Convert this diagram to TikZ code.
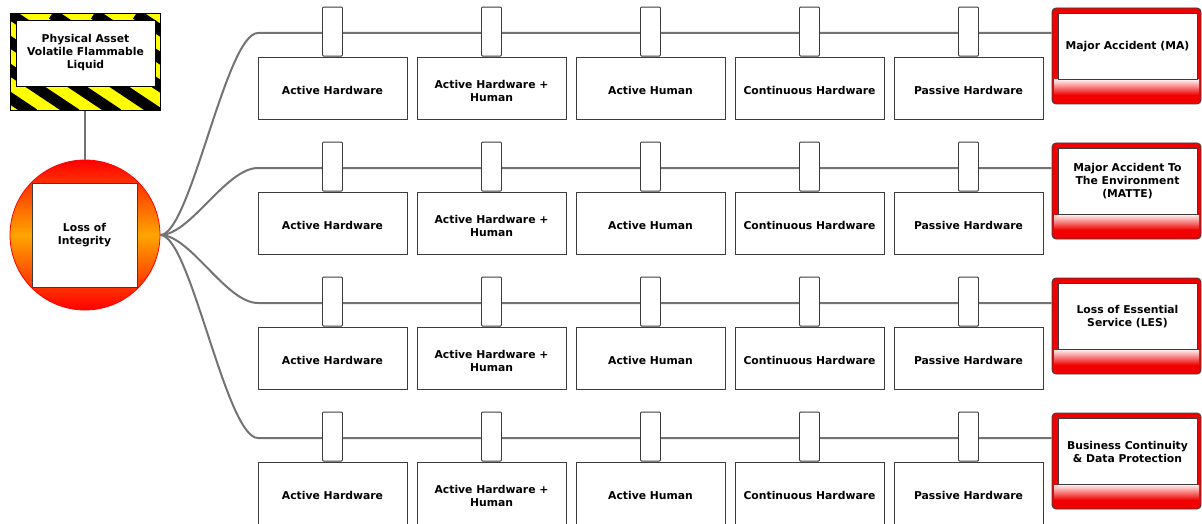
\documentclass[tikz,border=0pt]{standalone}
\usepackage{fontspec}
\setmainfont{DejaVu Sans}
\usetikzlibrary{positioning}
\definecolor{LinkGray}{RGB}{115,115,115}
\definecolor{EdgeGray}{RGB}{60,60,60}
\definecolor{HazYellow}{RGB}{255,255,0}
\definecolor{ConsRed}{RGB}{240,0,0}
\definecolor{TopOrange}{RGB}{255,165,0}
\tikzset{
  lbl/.style={font=\fontsize{10.8}{13}\selectfont\bfseries,align=center,inner sep=0pt},
  barrier/.style={draw=EdgeGray,fill=white,line width=0.9pt,
                  minimum width=149pt,minimum height=62pt},
  tab/.style={draw=EdgeGray,fill=white,line width=0.9pt,inner sep=0pt,
              minimum width=20pt,minimum height=49pt,rounded corners=1pt},
  hazbox/.style={draw=black,fill=HazYellow,line width=1pt,inner sep=0pt,
                 minimum width=150pt,minimum height=97pt},
  topev/.style={circle,draw=red,line width=0.8pt,minimum size=150pt,
                top color=red,bottom color=red,middle color=TopOrange},
  cons/.style={draw=black!75,fill=ConsRed,line width=0.9pt,rounded corners=4pt,
               minimum width=149pt,minimum height=96pt},
  inbox/.style={lbl,draw=EdgeGray,fill=white,line width=0.9pt,
                minimum width=139pt,minimum height=66pt},
  link/.style={LinkGray,line width=2pt},
}
\begin{document}
\begin{tikzpicture}[x=1pt,y=-1pt]
  \useasboundingbox (0,0) rectangle (1202,524);
  % hazard and top event
  \node[hazbox,path picture={
      \foreach \s in {-4,...,4}
        \draw[line width=11pt] ([xshift=\s*42pt]path picture bounding box.north west) -- ++(150pt,-100pt);
    }] (hazard) at (85,62.5) {};
  \node[inbox,draw=black] (hazin) at (85.5,53) {Physical Asset\\Volatile Flammable\\Liquid};
  \node[topev] (top) at (85,235) {};
  \node[inbox,minimum width=105pt,minimum height=104pt] (topin) at (84.5,235) {Loss of\\Integrity};
  \draw[link] (hazard) -- (top);
  % consequences and barrier rows
  \foreach \r/\ctext in {0/{Major Accident (MA)},
                         1/{Major Accident To\\The Environment\\(MATTE)},
                         2/{Loss of Essential\\Service (LES)},
                         3/{Business Continuity\\\& Data Protection}}{
    \node[cons] (cons\r) at (1126.5,{56+135*\r}) {};
    \shade[top color=red!8,bottom color=ConsRed] (1054,{80+135*\r}) rectangle (1199,{95+135*\r});
    \node[inbox] (consin\r) at (1127.5,{46.5+135*\r}) {\ctext};
    \coordinate (row\r) at (258,{33+135*\r});
    \draw[link] (top.east) .. controls +(30,0) and +(-32,0) .. (row\r) -- (row\r -| cons\r.west);
    \foreach \btext [count=\k from 0] in {Active Hardware,Active Hardware +\\Human,
                                          Active Human,Continuous Hardware,Passive Hardware}{
      \node[barrier] (bar\r-\k) at ({332.5+159*\k},{88+135*\r}) {};
      \node[lbl] (barl\r-\k) at ([yshift=-2.5pt]bar\r-\k.center) {\btext};
      \node[tab,above=0pt of bar\r-\k] (tab\r-\k) {};
    }
  }
\end{tikzpicture}
\end{document}
